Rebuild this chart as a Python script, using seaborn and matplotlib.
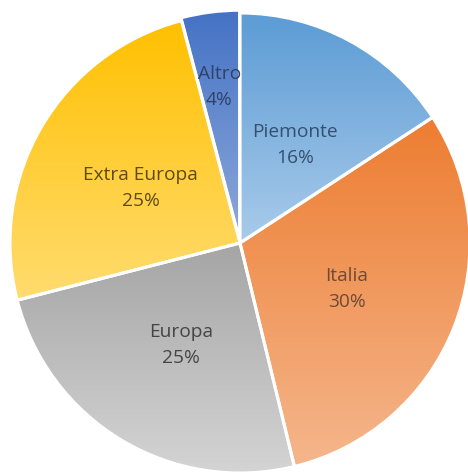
import numpy as np
import matplotlib
matplotlib.use("Agg")
import matplotlib.pyplot as plt
import seaborn as sns
from matplotlib.colors import LinearSegmentedColormap

labels = ["Piemonte", "Italia", "Europa", "Extra Europa", "Altro"]
values = [15.8, 30.4, 24.8, 24.9, 4.1]
top_colors = ["#5B9BD5", "#ED7D31", "#A5A5A5", "#FFC000", "#4472C4"]
bottom_colors = ["#A9CBEA", "#F5B68C", "#D4D4D4", "#FFDC70", "#8EA9DB"]
text_colors = ["#34506E", "#6E4A36", "#454545", "#5E4B16", "#2E426A"]
label_dist = [0.5, 0.5, 0.5, 0.5, 0.7]

sns.set_theme(style="white")
plt.rcParams['font.family'] = ['Open Sans', 'DejaVu Sans']

fig = plt.figure(figsize=(4.68, 4.75), dpi=100)
ax = fig.add_axes([0, 0, 1, 1])
R = 230.0

palette = sns.color_palette(top_colors)
explode = [0, 0, 0, 0, 0.012]
wedges, _ = ax.pie(values, colors=palette, startangle=90, counterclock=False,
                   explode=explode, radius=1.0,
                   wedgeprops=dict(edgecolor="white", linewidth=2.2))
ax.set_aspect("auto")
ax.axis("off")

grad = np.linspace(0, 1, 256).reshape(-1, 1)
for w, c0, c1 in zip(wedges, top_colors, bottom_colors):
    bb = w.get_path().get_extents()
    cmap = LinearSegmentedColormap.from_list("g", [c0, c1])
    im = ax.imshow(grad, cmap=cmap, extent=(bb.x0, bb.x1, bb.y0, bb.y1),
                   origin="upper", aspect="auto", zorder=w.get_zorder() + 0.1,
                   interpolation="bilinear")
    im.set_clip_path(w)
    w.set_facecolor("none")
    w.set_zorder(w.get_zorder() + 0.2)

total = sum(values)
for w, lab, v, tc, d in zip(wedges, labels, values, text_colors, label_dist):
    ang = np.deg2rad((w.theta1 + w.theta2) / 2)
    x, y = d * np.cos(ang), d * np.sin(ang)
    ax.text(x, y - 0.015, f"{lab}\n{round(v / total * 100):.0f}%", ha="center", va="center",
            fontsize=13.8, color=tc, linespacing=1.55, zorder=10)

ax.set_xlim(-240 / R, 228 / R)
ax.set_ylim(-232 / R, 243 / R)
fig.savefig("out.png", dpi=100)
